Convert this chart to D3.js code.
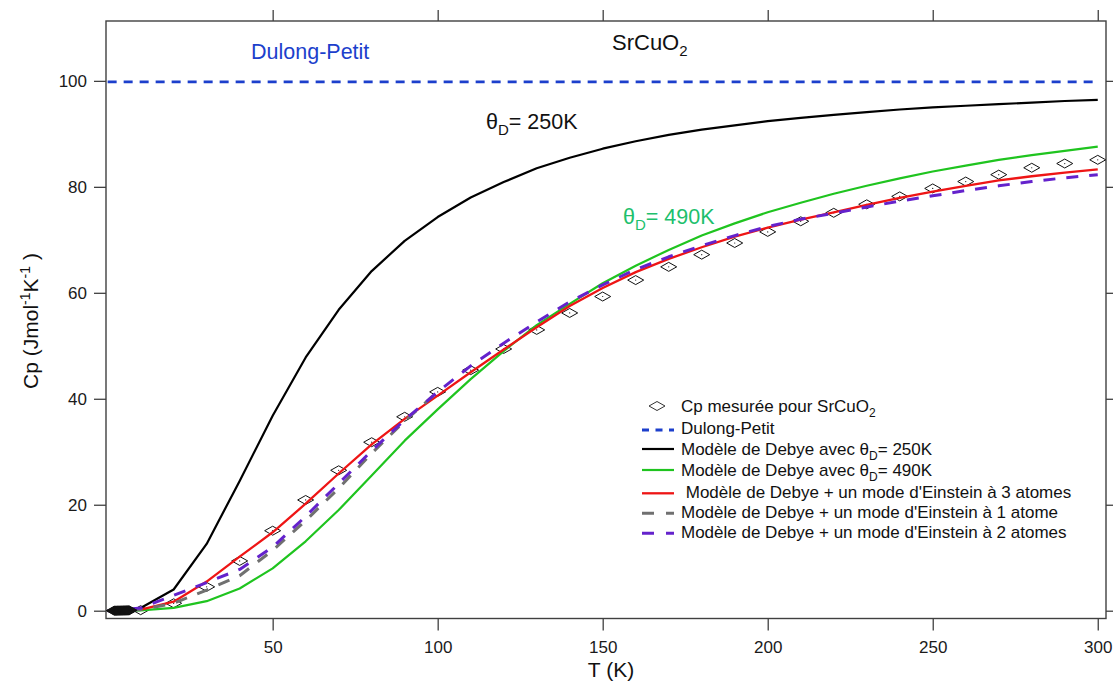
<!DOCTYPE html>
<html><head><meta charset="utf-8">
<script src="https://cdn.jsdelivr.net/npm/d3@7"></script>
<style>
html,body{margin:0;padding:0;background:#fff;}
svg{display:block;font-family:"Liberation Sans",Arial,sans-serif;}
</style>
</head><body>
<svg id="chart" width="1113" height="682"></svg>
<script>
// ---------- data ----------
const temps = [0,10,20,30,40,50,60,70,80,90,100,110,120,130,140,150,160,170,180,190,200,210,220,230,240,250,260,270,280,290,300];
const debye250 = [0,0.5,4.0,12.6,24.5,36.8,47.8,56.8,64.1,69.8,74.3,78.0,80.9,83.5,85.5,87.2,88.6,89.8,90.8,91.6,92.4,93.0,93.6,94.1,94.6,95.0,95.3,95.6,95.9,96.2,96.4];
const debye490 = [0,0.07,0.53,1.8,4.2,8.0,13.1,19.0,25.5,32.1,38.0,43.7,49.0,53.9,57.9,61.8,65.1,68.1,70.8,73.1,75.2,77.0,78.7,80.2,81.6,82.9,84.0,85.1,86.0,86.8,87.6];
const einstein3 = [0,0.2,1.7,5.5,10.2,14.8,20.2,25.9,31.4,36.2,40.6,45.0,49.3,53.5,57.5,60.9,63.9,66.4,68.6,70.6,72.3,73.8,75.2,76.6,77.9,79.1,80.2,81.2,82.0,82.7,83.3];
const einstein2 = [0,0.5,2.9,5.3,7.8,12.0,17.8,24.0,30.2,36.0,41.3,46.2,50.5,54.5,58.3,61.5,64.4,66.8,68.9,70.8,72.5,73.9,75.0,76.2,77.3,78.3,79.3,80.2,81.0,81.7,82.3];
const einstein1T = [0,10,20,30,40,50,60,70,80,90,100];
const einstein1 = [0,0.2,1.4,3.9,6.6,11.4,17.0,23.1,29.7,35.8,41.3];
const dulongT = [0,300];
const dulong = [99.8,99.8];
const measT = [10,20,30,40,50,60,70,80,90,100,110,120,130,140,150,160,170,180,190,200,210,220,230,240,250,260,270,280,290,300];
const measCp = [0.1,1.4,4.5,9.4,15.1,20.9,26.5,31.8,36.6,41.3,45.4,49.4,53.0,56.2,59.3,62.4,64.9,67.2,69.4,71.5,73.5,75.1,76.7,78.2,79.7,81.0,82.3,83.6,84.4,85.1];
const lowT = [2.0,2.25,2.5,2.75,3.0,3.25,3.5,3.75,4.0,4.25,4.5,4.75,5.0,5.25,5.5,5.75,6.0,6.25,6.5];
const lowCp = [0.01,0.01,0.01,0.01,0.02,0.02,0.02,0.02,0.03,0.03,0.03,0.04,0.04,0.04,0.05,0.05,0.06,0.06,0.07];
const xTicks = [50,100,150,200,250,300];
const yTicks = [0,20,40,60,80,100];

// ---------- scales ----------
const svg = d3.select("#chart");
const x = d3.scaleLinear().domain([-0.5,302.5]).range([106,1106]);
const y = d3.scaleLinear().domain([-1.47,111.3]).range([618.5,21]);
const axisColor = "#404040";

const zip = (a,b) => a.map((v,i)=>[v,b[i]]);
const line = d3.line().x(d=>x(d[0])).y(d=>y(d[1]));

// ---------- axes ----------
function styleAxis(g){
  g.select(".domain").remove();
  g.selectAll(".tick line").attr("stroke",axisColor).attr("stroke-width",1.3);
  g.selectAll(".tick text").attr("fill","#1a1a1a").attr("font-size",17).attr("font-family","Liberation Sans, Arial, sans-serif");
}
svg.append("g").attr("transform","translate(0,618.5)")
  .call(d3.axisBottom(x).tickValues(xTicks).tickSize(12).tickPadding(10).tickSizeOuter(0))
  .call(styleAxis);
svg.append("g").attr("transform","translate(0,21)")
  .call(d3.axisTop(x).tickValues(xTicks).tickSize(11).tickFormat("").tickSizeOuter(0))
  .call(styleAxis);
svg.append("g").attr("transform","translate(106,0)")
  .call(d3.axisLeft(y).tickValues(yTicks).tickSize(12).tickPadding(7).tickSizeOuter(0))
  .call(styleAxis);
svg.append("g").attr("transform","translate(1106,0)")
  .call(d3.axisRight(y).tickValues(yTicks).tickSize(9).tickFormat("").tickSizeOuter(0))
  .call(styleAxis);
svg.append("rect").attr("x",106).attr("y",21).attr("width",1000).attr("height",597.5)
  .attr("fill","none").attr("stroke",axisColor).attr("stroke-width",1.4);

// ---------- measured points & curves ----------
const diamond = "M-8,0L0,-4.5L8,0L0,4.5Z";
const plot = svg.append("g");
function drawDiamonds(g, pts, fill){
  const s = g.selectAll(null).data(pts).enter().append("g")
    .attr("transform",d=>`translate(${x(d[0])},${y(d[1])})`);
  s.append("path").attr("d",diamond).attr("fill",fill).attr("stroke","#111").attr("stroke-width",1);
  s.append("circle").attr("r",0.6).attr("fill","#111");
}
drawDiamonds(plot, zip(measT,measCp), "none");

const series = [
  {name:"black", t:temps, v:debye250, color:"#000000", w:2.2, dash:null},
  {name:"green", t:temps, v:debye490, color:"#1fc41f", w:2.2, dash:null},
  {name:"red", t:temps, v:einstein3, color:"#ee1515", w:2.3, dash:null},
  {name:"gray", t:einstein1T, v:einstein1, color:"#707070", w:3, dash:"12,11"},
  {name:"purple", t:temps, v:einstein2, color:"#6422cc", w:3, dash:"12,11"},
  {name:"blue", t:dulongT, v:dulong, color:"#1c3fcc", w:2.8, dash:"9,7"}
];
series.forEach(s=>{
  plot.append("path").datum(zip(s.t,s.v)).attr("d",line)
    .attr("fill","none").attr("stroke",s.color).attr("stroke-width",s.w)
    .attr("stroke-dasharray",s.dash).attr("stroke-linejoin","round");
});
drawDiamonds(plot, zip(lowT,lowCp), "#111");

// ---------- annotations ----------
svg.append("text").attr("x",251).attr("y",59).attr("font-size",21.5).attr("fill","#1c3fcc").text("Dulong-Petit");
const title = svg.append("text").attr("x",612).attr("y",49.5).attr("font-size",22).attr("fill","#111");
title.append("tspan").text("SrCuO");
title.append("tspan").attr("dy",6).attr("font-size",15).text("2");

function thetaLabel(xp, yp, txt, color){
  const t = svg.append("text").attr("x",xp).attr("y",yp).attr("font-size",21.5).attr("fill",color);
  t.append("tspan").text("θ");
  t.append("tspan").attr("dy",6).attr("font-size",15).text("D");
  t.append("tspan").attr("dy",-6).text(txt);
}
thetaLabel(486,128.5,"= 250K","#111");
thetaLabel(623,223.5,"= 490K","#20bf6c");

// axis titles
svg.append("text").attr("x",611).attr("y",677).attr("text-anchor","middle").attr("font-size",21).attr("fill","#111").text("T (K)");
const yl = svg.append("text").attr("transform","translate(38,321) rotate(-90)").attr("text-anchor","middle").attr("font-size",21).attr("fill","#111");
yl.append("tspan").text("Cp (Jmol");
yl.append("tspan").attr("dy",-8).attr("font-size",14).text("-1");
yl.append("tspan").attr("dy",8).text("K");
yl.append("tspan").attr("dy",-8).attr("font-size",14).text("-1");
yl.append("tspan").attr("dy",8).text(" )");

// ---------- legend ----------
const leg = svg.append("g");
const legRows = [
  {kind:"diamond", y:406, base:411.7, label:["Cp mesurée pour SrCuO","2",""]},
  {kind:"line", color:"#1c3fcc", w:2.8, dash:"7,6.5", y:430, base:434, label:["Dulong-Petit"]},
  {kind:"line", color:"#000000", w:2.2, dash:null, y:449, base:454.5, label:["Modèle de Debye avec θ","D","= 250K"]},
  {kind:"line", color:"#1fc41f", w:2.2, dash:null, y:470, base:476, label:["Modèle de Debye avec θ","D","= 490K"]},
  {kind:"line", color:"#ee1515", w:2.3, dash:null, y:493.3, base:498.3, label:[" Modèle de Debye + un mode d'Einstein à 3 atomes"]},
  {kind:"line", color:"#707070", w:3, dash:"12,12", y:513.3, base:518, label:["Modèle de Debye + un mode d'Einstein à 1 atome"]},
  {kind:"line", color:"#6422cc", w:3, dash:"12,12", y:533.3, base:537.5, label:["Modèle de Debye + un mode d'Einstein à 2 atomes"]}
];
legRows.forEach(r=>{
  if(r.kind==="diamond"){
    leg.append("path").attr("d",diamond).attr("transform",`translate(657,${r.y})`)
      .attr("fill","none").attr("stroke","#333").attr("stroke-width",1);
  } else {
    leg.append("line").attr("x1",642).attr("x2",674).attr("y1",r.y).attr("y2",r.y)
      .attr("stroke",r.color).attr("stroke-width",r.w).attr("stroke-dasharray",r.dash);
  }
  const t = leg.append("text").attr("x",681).attr("y",r.base).attr("font-size",17).attr("fill","#111")
    .attr("xml:space","preserve").style("white-space","pre");
  t.append("tspan").text(r.label[0]);
  if(r.label.length>1){
    t.append("tspan").attr("dy",5).attr("font-size",12).text(r.label[1]);
    t.append("tspan").attr("dy",-5).text(r.label[2]);
  }
});
</script>
</body></html>
